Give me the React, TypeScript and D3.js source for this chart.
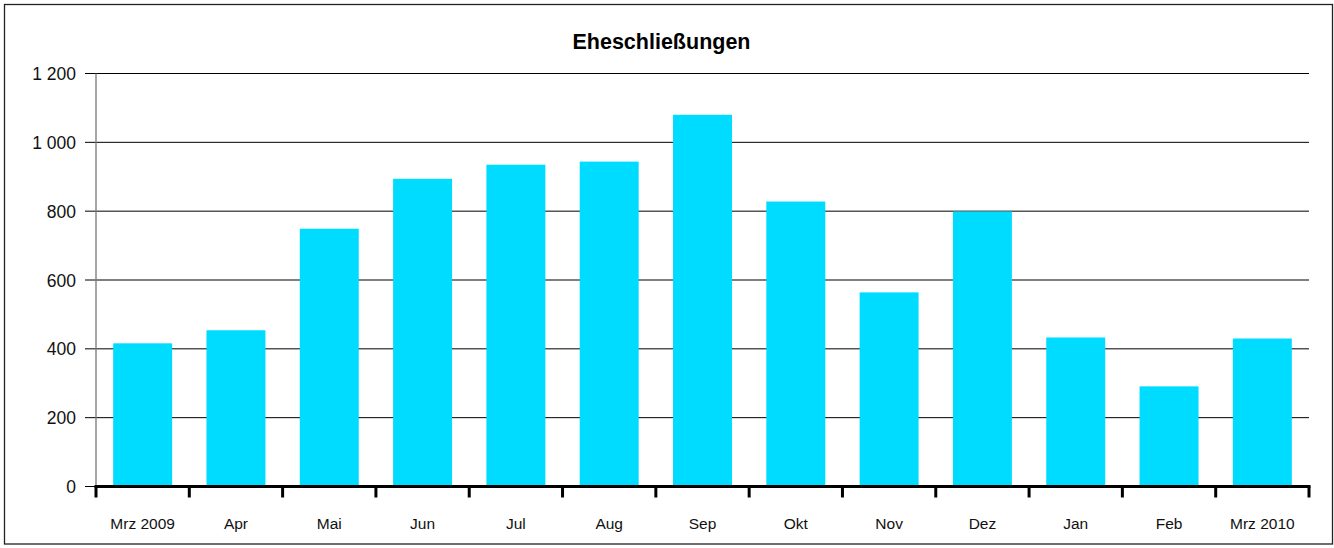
import React, { useEffect, useRef } from "react";
import * as d3 from "d3";

// Eheschließungen pro Monat, März 2009 bis März 2010
const months = ["Mrz 2009", "Apr", "Mai", "Jun", "Jul", "Aug", "Sep", "Okt", "Nov", "Dez", "Jan", "Feb", "Mrz 2010"];
const marriages = [416, 454, 749, 894, 935, 944, 1080, 828, 564, 799, 433, 291, 430];
const yTicks = [0, 200, 400, 600, 800, 1000, 1200];
const title = "Eheschließungen";

const sizes = { width: 1334, height: 548 };
const margin = { top: 73.5, right: 25, bottom: 61.5, left: 96 };
const barPad = 0.368;

const fmt = d3.formatLocale({ decimal: ",", thousands: " ", grouping: [3], currency: ["", ""] }).format(",");

export default function App() {
  const ref = useRef<SVGSVGElement>(null);

  useEffect(() => {
    const svg = d3.select(ref.current);
    svg.selectAll("*").remove();

    const x0 = margin.left;
    const x1 = sizes.width - margin.right;
    const y0 = sizes.height - margin.bottom;

    const x = d3.scaleBand<string>()
      .domain(months)
      .range([x0, x1])
      .paddingInner(barPad)
      .paddingOuter(barPad / 2);

    const y = d3.scaleLinear()
      .domain([0, 1200])
      .range([y0, margin.top]);

    // outer frame
    svg.append("rect")
      .attr("x", 4.5).attr("y", 4.5)
      .attr("width", sizes.width - 6).attr("height", sizes.height - 8.5)
      .attr("fill", "white").attr("stroke", "#222").attr("stroke-width", 1.3);

    svg.append("text")
      .attr("x", 661.5).attr("y", 49)
      .attr("text-anchor", "middle")
      .attr("font-family", "Liberation Sans, Arial, sans-serif")
      .attr("font-weight", "bold").attr("font-size", 21.5)
      .text(title);

    // y axis + grid
    const yAxis = svg.append("g")
      .attr("transform", `translate(${x0},0)`)
      .call(d3.axisLeft(y).tickValues(yTicks).tickFormat((d) => fmt(d as number)).tickSizeOuter(0).offset(0));
    yAxis.select(".domain").remove();
    yAxis.selectAll(".tick line")
      .attr("x1", -11).attr("x2", x1 - x0)
      .attr("stroke", "#000").attr("stroke-width", 1);
    yAxis.selectAll(".tick text")
      .attr("x", -20).attr("dy", "0.72em").attr("y", -6)
      .attr("fill", "#111")
      .attr("font-family", "Liberation Sans, Arial, sans-serif")
      .attr("font-size", 17.5);

    svg.append("line")
      .attr("x1", x0).attr("x2", x0)
      .attr("y1", y(1200)).attr("y2", y0)
      .attr("stroke", "#777").attr("stroke-width", 1.3);

    // bars
    svg.append("g")
      .attr("fill", "#00dcff")
      .selectAll("rect")
      .data(marriages)
      .join("rect")
      .attr("x", (d, i) => x(months[i]) as number)
      .attr("y", (d) => y(d))
      .attr("width", x.bandwidth())
      .attr("height", (d) => y(0) - y(d));

    // x axis: thick base line with ticks at category boundaries
    const bounds = d3.range(months.length + 1).map((i) => x0 + i * x.step());
    svg.append("line")
      .attr("x1", x0 - 1.5).attr("x2", x1 + 1.5)
      .attr("y1", y0).attr("y2", y0)
      .attr("stroke", "black").attr("stroke-width", 3);
    svg.append("g")
      .selectAll("line")
      .data(bounds)
      .join("line")
      .attr("x1", (d) => d).attr("x2", (d) => d)
      .attr("y1", y0).attr("y2", y0 + 11)
      .attr("stroke", "black").attr("stroke-width", 3);

    svg.append("g")
      .selectAll("text")
      .data(months)
      .join("text")
      .attr("x", (d) => (x(d) as number) + x.bandwidth() / 2)
      .attr("y", 529)
      .attr("text-anchor", "middle")
      .attr("fill", "#111")
      .attr("font-family", "Liberation Sans, Arial, sans-serif")
      .attr("font-size", 15.5)
      .text((d) => d);
  }, []);

  return (
    <svg
      ref={ref}
      width={sizes.width}
      height={sizes.height}
      style={{ position: "absolute", left: 0, top: 0, background: "white" }}
    />
  );
}
